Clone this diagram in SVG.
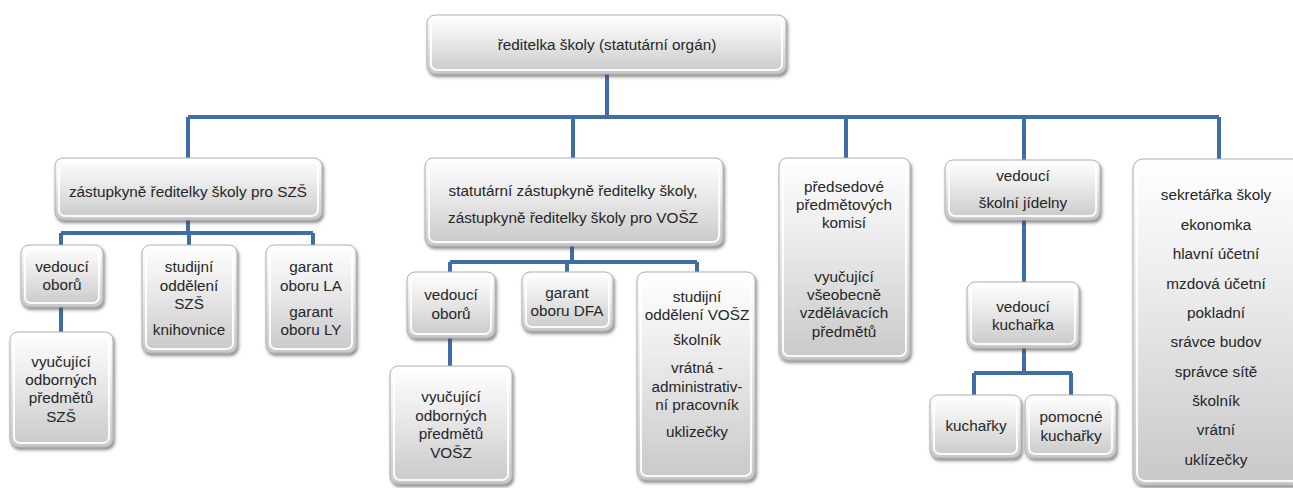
<svg xmlns="http://www.w3.org/2000/svg" width="1293" height="488" viewBox="0 0 1293 488">
<defs>
<linearGradient id="g" x1="0" y1="0" x2="0" y2="1">
<stop offset="0" stop-color="#ffffff"/>
<stop offset="0.4" stop-color="#ebebeb"/>
<stop offset="1" stop-color="#c8c8c8"/>
</linearGradient>
<filter id="sh" x="-10%" y="-10%" width="125%" height="130%">
<feDropShadow dx="1.5" dy="2.5" stdDeviation="1.5" flood-color="#404040" flood-opacity="0.6"/>
</filter>
</defs>
<style>
.b{fill:url(#g);stroke:#b0b0b0;stroke-width:1;filter:url(#sh)}
.hl{fill:none;stroke:#ffffff;stroke-width:2;opacity:0.9}
text{font-family:"Liberation Sans",Arial,sans-serif;font-size:15.3px;fill:#262626;text-anchor:middle}
.c{fill:none;stroke:#3f6ea6;stroke-width:4}
</style>
<rect width="1293" height="488" fill="#ffffff"/>

<g id="connectors">
<path class="c" d="M607 74V117M188 117H1219M188 117V158M573 117V158M846 117V158M1024 117V160M1219 117V159"/>
<path class="c" d="M188 220V233M61 233H313M61 233V245M189 233V245M313 233V245M61 307V332"/>
<path class="c" d="M572 246V262M450 262H697M450 262V272M567 262V272M697 262V272M450 338V366"/>
<path class="c" d="M1024 220V282M1024 348V373M974 373H1072M974 373V395M1071 373V395"/>
</g>

<g id="n-reditelka">
<rect class="b" x="427" y="15" width="359" height="59" rx="8"/>
<rect class="hl" x="431" y="19" width="351" height="51" rx="6"/>
<text x="607" y="50">ředitelka školy (statutární orgán)</text>
</g>

<g id="n-zast-szs">
<rect class="b" x="55" y="158" width="267" height="62" rx="8"/>
<rect class="hl" x="59" y="162" width="259" height="54" rx="6"/>
<text x="188" y="197">zástupkyně ředitelky školy pro SZŠ</text>
</g>

<g id="n-stat-zast">
<rect class="b" x="425" y="158" width="298" height="88" rx="8"/>
<rect class="hl" x="429" y="162" width="290" height="80" rx="6"/>
<text x="573" y="196">statutární zástupkyně ředitelky školy,</text>
<text x="573" y="223">zástupkyně ředitelky školy pro VOŠZ</text>
</g>

<g id="n-predsedove">
<rect class="b" x="779" y="158" width="131" height="202" rx="8"/>
<rect class="hl" x="783" y="162" width="123" height="194" rx="6"/>
<text x="844" y="192">předsedové</text>
<text x="844" y="210">předmětových</text>
<text x="844" y="228">komisí</text>
<text x="844" y="282">vyučující</text>
<text x="844" y="300">všeobecně</text>
<text x="844" y="318">vzdělávacích</text>
<text x="844" y="337">předmětů</text>
</g>

<g id="n-jidelna">
<rect class="b" x="945" y="160" width="155" height="60" rx="8"/>
<rect class="hl" x="949" y="164" width="147" height="52" rx="6"/>
<text x="1023" y="181">vedoucí</text>
<text x="1023" y="208">školní jídelny</text>
</g>

<g id="n-sekretarka">
<rect class="b" x="1133" y="159" width="172" height="326" rx="10"/>
<rect class="hl" x="1137" y="163" width="164" height="318" rx="8"/>
<text x="1216" y="200">sekretářka školy</text>
<text x="1216" y="230">ekonomka</text>
<text x="1216" y="259">hlavní účetní</text>
<text x="1216" y="289">mzdová účetní</text>
<text x="1216" y="318">pokladní</text>
<text x="1216" y="347">srávce budov</text>
<text x="1216" y="377">správce sítě</text>
<text x="1216" y="406">školník</text>
<text x="1216" y="435">vrátní</text>
<text x="1216" y="465">uklízečky</text>
</g>

<g id="n-ved-oboru-szs">
<rect class="b" x="21" y="245" width="82" height="62" rx="8"/>
<rect class="hl" x="25" y="249" width="74" height="54" rx="6"/>
<text x="62" y="272">vedoucí</text>
<text x="62" y="290">oborů</text>
</g>

<g id="n-vyuc-szs">
<rect class="b" x="10" y="332" width="103" height="115" rx="8"/>
<rect class="hl" x="14" y="336" width="95" height="107" rx="6"/>
<text x="61" y="367">vyučující</text>
<text x="61" y="385">odborných</text>
<text x="61" y="403">předmětů</text>
<text x="61" y="422">SZŠ</text>
</g>

<g id="n-stud-szs">
<rect class="b" x="142" y="245" width="95" height="108" rx="8"/>
<rect class="hl" x="146" y="249" width="87" height="100" rx="6"/>
<text x="189" y="272">studijní</text>
<text x="189" y="291">oddělení</text>
<text x="189" y="309">SZŠ</text>
<text x="189" y="335">knihovnice</text>
</g>

<g id="n-garant-la">
<rect class="b" x="266" y="245" width="90" height="108" rx="8"/>
<rect class="hl" x="270" y="249" width="82" height="100" rx="6"/>
<text x="311" y="272">garant</text>
<text x="311" y="291">oboru LA</text>
<text x="311" y="317">garant</text>
<text x="311" y="335">oboru LY</text>
</g>

<g id="n-ved-oboru-vosz">
<rect class="b" x="407" y="272" width="88" height="66" rx="8"/>
<rect class="hl" x="411" y="276" width="80" height="58" rx="6"/>
<text x="451" y="300">vedoucí</text>
<text x="451" y="319">oborů</text>
</g>

<g id="n-vyuc-vosz">
<rect class="b" x="390" y="366" width="122" height="118" rx="8"/>
<rect class="hl" x="394" y="370" width="114" height="110" rx="6"/>
<text x="451" y="402">vyučující</text>
<text x="451" y="421">odborných</text>
<text x="451" y="439">předmětů</text>
<text x="451" y="458">VOŠZ</text>
</g>

<g id="n-garant-dfa">
<rect class="b" x="522" y="272" width="91" height="59" rx="8"/>
<rect class="hl" x="526" y="276" width="83" height="51" rx="6"/>
<text x="567" y="298">garant</text>
<text x="567" y="316">oboru DFA</text>
</g>

<g id="n-stud-vosz">
<rect class="b" x="637" y="272" width="118" height="208" rx="8"/>
<rect class="hl" x="641" y="276" width="110" height="200" rx="6"/>
<text x="697" y="302">studijní</text>
<text x="697" y="320">oddělení VOŠZ</text>
<text x="697" y="345">školník</text>
<text x="697" y="373">vrátná -</text>
<text x="697" y="392">administrativ-</text>
<text x="697" y="410">ní pracovník</text>
<text x="697" y="437">uklizečky</text>
</g>

<g id="n-ved-kucharka">
<rect class="b" x="967" y="282" width="112" height="66" rx="8"/>
<rect class="hl" x="971" y="286" width="104" height="58" rx="6"/>
<text x="1023" y="312">vedoucí</text>
<text x="1023" y="330">kuchařka</text>
</g>

<g id="n-kucharky">
<rect class="b" x="930" y="395" width="91" height="63" rx="8"/>
<rect class="hl" x="934" y="399" width="83" height="55" rx="6"/>
<text x="976" y="431">kuchařky</text>
</g>

<g id="n-pomocne">
<rect class="b" x="1025" y="395" width="91" height="63" rx="8"/>
<rect class="hl" x="1029" y="399" width="83" height="55" rx="6"/>
<text x="1071" y="422">pomocné</text>
<text x="1071" y="441">kuchařky</text>
</g>
</svg>
